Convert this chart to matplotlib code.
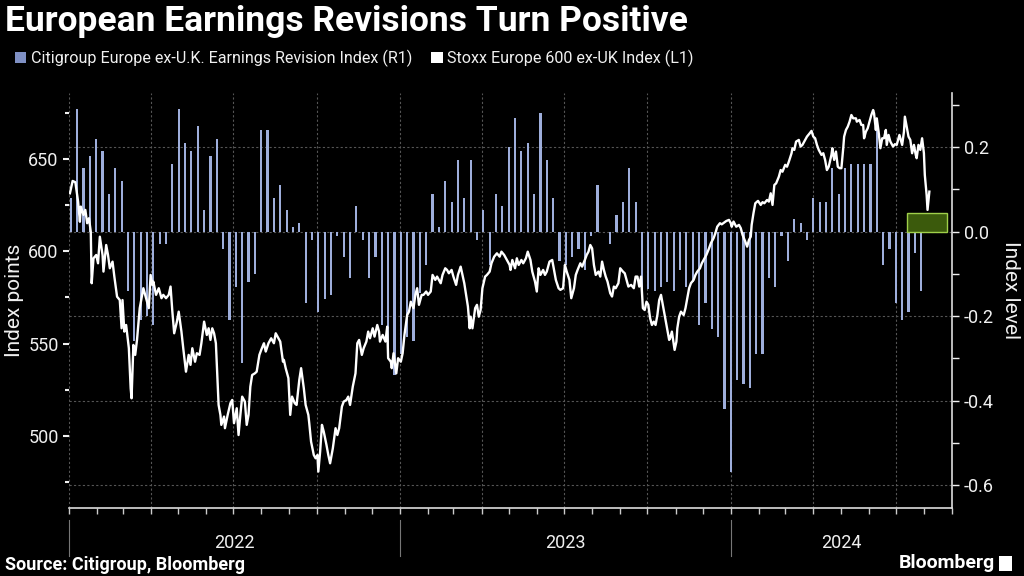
import pandas as pd
import matplotlib
matplotlib.use('Agg')
import matplotlib.pyplot as plt
import matplotlib.dates as mdates
import matplotlib.ticker as mticker
from matplotlib.patches import Rectangle, Patch

plt.rcParams['font.family'] = ['Roboto', 'DejaVu Sans']
plt.rcParams['axes.unicode_minus'] = False

# --- data ---
# Citigroup Europe ex-UK earnings revision index, weekly (right axis)
revision = [
    0.08, 0.29, 0.15, 0.18, 0.22, 0.19, 0.09, 0.15, 0.12, -0.14, -0.26, -0.21,
    -0.20, -0.22, -0.03, -0.03, 0.16, 0.29, 0.21, 0.19, 0.25, 0.05, 0.18, 0.22,
    -0.04, -0.21, -0.13, -0.31, -0.12, -0.10, 0.24, 0.24, 0.08, 0.11, 0.05, 0.01,
    0.02, -0.17, -0.02, -0.19, -0.16, -0.15, -0.01, -0.06, -0.11, 0.06,
    -0.02, -0.11, -0.06, -0.22, -0.28, -0.34, -0.29, -0.25, -0.26, -0.145, -0.08,
    0.09, 0.01, 0.12, 0.07, 0.17, 0.08, 0.17, -0.02, 0.05, -0.08, 0.09, 0.06, 0.20,
    0.27, 0.19, 0.21, 0.09, 0.28, 0.17, 0.08, -0.07, -0.08, -0.06, -0.04, -0.09,
    -0.01, 0.11, 0.0, -0.03, 0.04, 0.07, 0.15, 0.07,
    -0.135, -0.135, -0.14, -0.13, -0.12, -0.14, -0.09, -0.13, -0.12, -0.22, -0.17,
    -0.23, -0.25, -0.42, -0.57, -0.35, -0.36, -0.37, -0.29, -0.29, -0.11, -0.13,
    -0.01, -0.07, 0.03, 0.02, -0.02, 0.08, 0.07, 0.07, 0.15, 0.09, 0.15, 0.16,
    0.16, 0.16, 0.16, 0.27, -0.08, -0.04, -0.17, -0.21, -0.19, -0.05, -0.14,
]
revision_dates = pd.date_range('2022-01-03', periods=len(revision), freq='7D')

# Stoxx Europe 600 ex-UK, days since 2022-01-01 and index points (left axis)
stoxx_day = [
    1, 4, 7, 10, 12, 13, 16, 18, 20, 22, 24, 25, 27, 30, 32, 34, 37, 38, 41, 43,
    45, 48, 50, 53, 56, 58, 59, 61, 63, 66, 68, 69, 71, 73, 75, 78, 80, 82, 85, 88,
    90, 92, 93, 96, 99, 102, 104, 107, 110, 112, 114, 116, 119, 121, 124, 126, 129,
    132, 134, 136, 139, 141, 144, 146, 149, 152, 154, 156, 158, 160, 162, 165, 167,
    168, 171, 172, 175, 178, 180, 182, 185, 187, 189, 191, 194, 196, 198, 200, 202,
    205, 207, 210, 212, 215, 217, 220, 223, 226, 228, 231, 233, 236, 237, 239, 242,
    244, 246, 249, 251, 254, 256, 259, 261, 264, 265, 267, 270, 272, 274, 275, 277,
    279, 281, 284, 286, 288, 291, 294, 296, 298, 301, 303, 306, 308, 310, 313, 316,
    318, 320, 323, 325, 328, 330, 332, 335, 337, 340, 342, 343, 346, 349, 351, 352,
    355, 356, 358, 361, 363, 366, 368, 370, 373, 375, 377, 380, 382, 384, 386, 389,
    391, 394, 396, 399, 401, 404, 406, 408, 410, 412, 415, 417, 419, 422, 424, 427,
    429, 432, 434, 436, 438, 440, 442, 443, 445, 448, 450, 452, 454, 456, 459, 461,
    464, 466, 469, 472, 475, 477, 480, 483, 486, 487, 489, 492, 494, 496, 499, 501,
    504, 506, 509, 511, 514, 516, 518, 520, 523, 525, 527, 530, 533, 535, 537, 540,
    542, 545, 547, 549, 552, 554, 557, 559, 561, 564, 566, 569, 571, 573, 575, 577,
    579, 581, 584, 586, 588, 590, 592, 594, 597, 599, 601, 603, 606, 608, 611, 613,
    615, 617, 620, 623, 625, 627, 629, 631, 633, 635, 637, 639, 641, 643, 645, 647,
    649, 651, 653, 655, 657, 659, 662, 663, 665, 668, 670, 671, 673, 675, 678, 680,
    682, 684, 686, 689, 691, 693, 696, 698, 701, 703, 706, 708, 711, 713, 715, 718,
    720, 723, 725, 728, 730, 731, 733, 736, 739, 741, 743, 746, 748, 750, 752, 753,
    755, 757, 760, 763, 765, 767, 770, 772, 774, 776, 778, 780, 783, 785, 787, 790,
    792, 794, 797, 798, 800, 802, 805, 807, 809, 812, 814, 817, 819, 821, 823, 825,
    827, 830, 832, 834, 836, 838, 841, 842, 844, 846, 848, 850, 852, 854, 855, 857,
    859, 861, 863, 865, 868, 869, 872, 874, 876, 877, 879, 881, 883, 885, 887, 888,
    890, 891, 893, 895, 897, 899, 901, 902, 904, 906, 909, 911, 913, 916, 919, 921,
    922, 924, 926, 928, 930, 932, 934, 935, 937, 939, 941, 943, 944, 946, 947, 949,
]
stoxx = [
    631.4, 638.1, 637.4, 626.9, 616.0, 624.2, 619.7, 622.4, 615.2, 617.9, 610.6, 582.7,
    596.2, 598.0, 593.5, 607.9, 598.0, 589.0, 603.4, 598.0, 590.8, 594.4, 586.3, 575.4,
    573.6, 558.3, 573.6, 556.5, 560.1, 547.5, 525.8, 520.4, 549.3, 543.9, 552.0, 569.2,
    574.6, 580.0, 574.6, 569.2, 587.2, 581.8, 583.6, 576.4, 580.0, 574.6, 576.4, 574.6,
    576.4, 580.9, 567.3, 555.6, 561.9, 567.3, 556.5, 547.5, 534.8, 543.9, 538.5, 547.5,
    540.2, 544.8, 543.9, 550.2, 561.9, 554.7, 558.3, 552.0, 558.3, 555.6, 550.2, 516.8,
    511.4, 506.0, 510.5, 504.2, 511.4, 517.7, 519.5, 506.9, 515.0, 500.5, 511.4, 521.3,
    518.6, 506.0, 511.4, 526.7, 533.0, 533.9, 534.8, 543.9, 546.6, 550.2, 545.7, 550.2,
    552.9, 550.2, 555.6, 552.9, 551.1, 540.2, 541.2, 536.7, 531.3, 511.4, 521.3, 517.7,
    516.8, 530.3, 536.7, 525.8, 516.8, 511.4, 506.9, 496.9, 489.7, 487.9, 489.7, 480.7,
    491.5, 506.0, 502.3, 495.1, 489.7, 485.2, 493.3, 504.2, 500.5, 504.2, 515.9, 518.6,
    519.5, 521.3, 516.8, 526.7, 533.9, 550.2, 552.0, 543.9, 547.5, 551.1, 556.5, 552.9,
    558.3, 553.8, 560.1, 556.5, 551.1, 554.7, 551.1, 559.2, 542.1, 540.2, 536.7, 544.8,
    533.9, 542.1, 540.2, 544.8, 554.7, 565.5, 567.3, 572.7, 569.2, 576.4, 580.0, 571.0,
    576.4, 576.4, 578.2, 576.4, 578.2, 587.2, 584.5, 586.3, 584.5, 582.7, 587.2, 590.8,
    589.9, 588.1, 589.9, 586.3, 581.8, 587.2, 591.7, 587.2, 582.7, 576.4, 570.1, 558.3,
    564.6, 558.3, 569.2, 571.0, 564.6, 568.2, 580.0, 586.3, 587.2, 589.0, 593.5, 597.1,
    598.9, 597.1, 599.8, 598.0, 595.3, 592.6, 589.9, 595.3, 590.8, 596.2, 592.6, 595.3,
    593.5, 596.2, 599.8, 595.3, 589.0, 583.6, 578.2, 590.8, 587.2, 589.9, 587.2, 589.0,
    594.4, 595.3, 589.9, 584.5, 580.0, 579.1, 580.0, 592.6, 589.0, 584.5, 574.6, 580.0,
    587.2, 589.9, 593.5, 591.7, 595.3, 598.0, 599.8, 603.4, 601.6, 592.6, 587.2, 589.0,
    586.3, 594.4, 589.9, 586.3, 583.6, 577.3, 575.5, 580.9, 580.0, 582.7, 590.8, 589.0,
    588.1, 584.5, 580.9, 581.8, 580.0, 586.3, 586.3, 580.9, 586.3, 569.2, 568.2, 572.7,
    571.0, 563.7, 560.1, 561.9, 560.1, 565.5, 573.6, 576.4, 571.0, 565.5, 560.1, 552.0,
    552.9, 556.5, 546.6, 551.1, 558.3, 564.6, 567.3, 565.5, 569.2, 574.6, 580.0, 582.7,
    584.5, 587.2, 589.0, 590.8, 593.5, 596.2, 598.0, 601.6, 604.4, 607.1, 609.8, 613.3,
    615.2, 614.6, 615.7, 616.4, 617.0, 615.2, 613.3, 616.1, 613.3, 614.3, 612.5, 608.8,
    605.2, 602.5, 606.1, 607.9, 614.3, 620.6, 626.0, 627.3, 625.1, 626.6, 626.0, 627.8,
    626.9, 631.4, 625.1, 635.9, 636.8, 640.4, 644.0, 643.1, 646.8, 645.8, 648.5, 653.1,
    655.8, 654.9, 659.4, 660.3, 656.7, 657.6, 660.3, 662.1, 663.9, 665.2, 662.1, 661.2,
    657.6, 654.9, 652.2, 653.1, 649.5, 644.0, 645.8, 652.2, 655.8, 649.5, 654.0, 645.8,
    645.0, 645.0, 655.8, 662.1, 665.7, 667.5, 670.2, 673.8, 672.0, 672.0, 670.2, 671.1,
    668.4, 668.4, 661.2, 664.8, 666.6, 670.2, 673.8, 676.5, 674.7, 665.7, 672.0, 664.8,
    655.8, 661.2, 661.2, 665.7, 657.6, 663.0, 659.4, 656.7, 658.0, 657.6, 663.0, 657.6,
    664.8, 672.9, 667.5, 662.1, 660.3, 653.1, 657.6, 652.2, 650.4, 657.6, 654.9, 661.2,
    653.1, 641.3, 630.5, 622.4, 632.3,
]
stoxx_dates = pd.Timestamp('2022-01-01') + pd.to_timedelta(stoxx_day, unit='D')

# latest revision reading, highlighted as a box
highlight_start, highlight_end = '2024-07-13', '2024-08-26'
highlight_value = 0.045

years = [2022, 2023, 2024]
x_start, x_end = pd.Timestamp('2022-01-01'), pd.Timestamp('2024-09-01')

BAR = '#9eaedb'
GRID = '#555555'
TXT = '#f0f0f0'

fig = plt.figure(figsize=(10.24, 5.76), dpi=100, facecolor='black')
ax = fig.add_axes([0.0674, 0.1181, 0.8623, 0.7204])
ax.set_facecolor('black')

# revision bars on the right axis
ax.bar(revision_dates, revision, width=2.4, color=BAR, zorder=2)
x0 = mdates.date2num(pd.Timestamp(highlight_start))
x1 = mdates.date2num(pd.Timestamp(highlight_end))
ax.add_patch(Rectangle((x0, 0), x1 - x0, highlight_value, facecolor='#3b5a0c',
                       edgecolor='#9fcf4a', lw=1, zorder=3))

ax.set_xlim(x_start, x_end)
ax.set_ylim(-0.654, 0.328)

# Stoxx line on the left axis
ax2 = ax.twinx()
ax2.plot(stoxx_dates, stoxx, color='white', lw=1.7, zorder=4)
ax2.yaxis.tick_left()
ax2.set_ylim(461, 685.7)
ax2.yaxis.set_major_locator(mticker.FixedLocator([500, 550, 600, 650]))
ax2.yaxis.set_minor_locator(mticker.MultipleLocator(25))
ax2.tick_params(axis='y', which='major', colors=TXT, labelsize=13, length=4, width=1.5)
ax2.tick_params(axis='y', which='minor', colors=TXT, length=3, width=1.5)
for side in ax2.spines:
    ax2.spines[side].set_visible(False)

# right axis setup after twinx (twinx moves ax ticks to the left)
ax.yaxis.tick_right()
ax.yaxis.set_major_locator(mticker.FixedLocator([-0.6, -0.4, -0.2, 0.0, 0.2]))
ax.yaxis.set_minor_locator(mticker.MultipleLocator(0.1))
ax.yaxis.set_major_formatter(mticker.FormatStrFormatter('%.1f'))
ax.tick_params(axis='y', which='major', colors=TXT, labelsize=13, length=5, width=1)
ax.tick_params(axis='y', which='minor', colors=TXT, length=5, width=1)

ax.xaxis.set_major_locator(mdates.MonthLocator(bymonth=[1, 4, 7, 10]))
ax.xaxis.set_minor_locator(mdates.MonthLocator())
ax.xaxis.set_major_formatter(mticker.NullFormatter())
ax.tick_params(axis='x', which='both', colors='#cccccc', length=4, width=1)

ax.grid(True, which='major', color=GRID, linestyle=(0, (2, 2)), lw=0.8, zorder=0)
for side in ['left', 'top']:
    ax.spines[side].set_visible(False)
for side in ['right', 'bottom']:
    ax.spines[side].set_color('#dddddd')
    ax.spines[side].set_linewidth(1.2)

# year labels and separators below the axis
for yr in years:
    a = max(pd.Timestamp(f'{yr}-01-01'), x_start)
    b = min(pd.Timestamp(f'{yr + 1}-01-01'), x_end)
    mid = a + (b - a) / 2
    ax.text(mid, -0.085, str(yr), transform=ax.get_xaxis_transform(),
            ha='center', va='center', color=TXT, fontsize=13)
    ax.plot([a, a], [-0.03, -0.115], transform=ax.get_xaxis_transform(),
            color='#777777', lw=0.8, clip_on=False)

fig.text(0.014, 0.479, 'Index points', rotation=90, ha='center', va='center',
         color=TXT, fontsize=15)
fig.text(0.987, 0.497, 'Index level', rotation=-90, ha='center', va='center',
         color=TXT, fontsize=15)

fig.text(0.005, 0.963, 'European Earnings Revisions Turn Positive', color='white',
         fontsize=25.5, fontweight='bold', va='center', ha='left')

handles = [Patch(facecolor='#7f90c4', label='Citigroup Europe ex-U.K. Earnings Revision Index (R1)'),
           Patch(facecolor='white', label='Stoxx Europe 600 ex-UK Index (L1)')]
fig.legend(handles=handles, loc='center left', bbox_to_anchor=(0.0, 0.899), ncol=2,
           frameon=False, fontsize=11.6, labelcolor=TXT, handlelength=0.7,
           handleheight=0.7, handletextpad=0.3, columnspacing=1.2)

fig.text(0.005, 0.019, 'Source: Citigroup, Bloomberg', color='white', fontsize=13,
         fontweight='bold', va='center', ha='left')
fig.text(0.972, 0.022, 'Bloomberg', color='white', fontsize=14, fontweight='bold',
         va='center', ha='right')
fig.patches.append(Rectangle((0.976, 0.008), 0.012, 0.026, transform=fig.transFigure,
                             facecolor='white', edgecolor='none'))

fig.savefig('out.png', dpi=100, facecolor='black')
